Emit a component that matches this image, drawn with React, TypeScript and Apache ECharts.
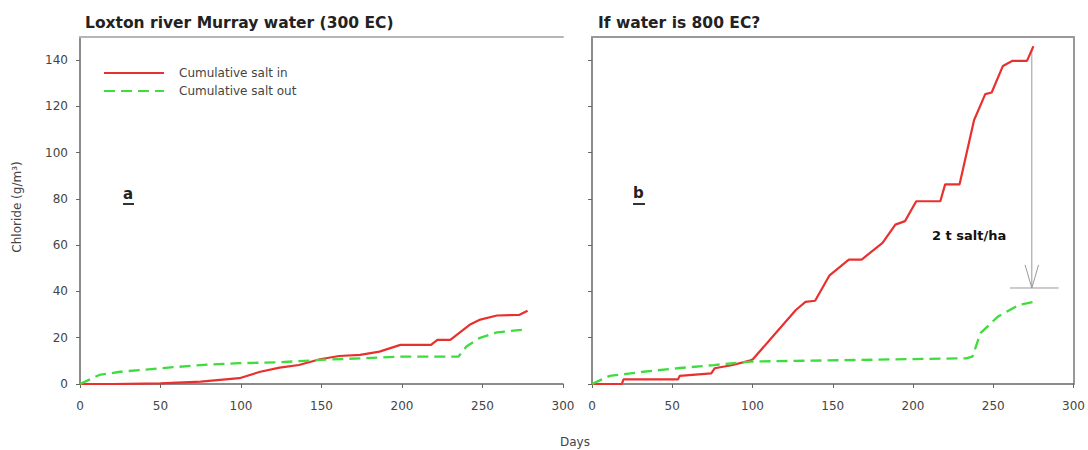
import React, { useEffect, useRef } from "react";
import * as echarts from "echarts";

// ---- data (days, cumulative chloride g/m^2) ----
const leftInDays = [0, 20, 50, 75, 99, 112, 124, 136, 149, 161, 174, 186, 199, 218, 222, 230, 242, 248, 259, 273, 278];
const leftInVals = [0, 0, 0.3, 1, 2.5, 5.3, 7.1, 8.2, 10.7, 12.1, 12.6, 14, 16.9, 16.9, 19.1, 19.1, 25.6, 27.7, 29.6, 29.9, 31.7];

const leftOutDays = [0, 12, 25, 50, 75, 99, 124, 149, 174, 199, 235, 240, 248, 259, 278];
const leftOutVals = [0, 3.9, 5.3, 6.8, 8.2, 9.0, 9.4, 10.4, 11.1, 11.8, 11.8, 16.2, 19.8, 22.3, 23.7];

const rightInDays = [0, 18.6, 19.6, 53.6, 54.6, 74.3, 76.4, 87.8, 98.2, 100.2, 112.6, 127, 133, 139, 148, 160, 168, 181, 189, 195, 202, 217, 220, 229, 238, 245, 249, 256, 262, 271, 275];
const rightInVals = [0, 0, 2, 2, 3.5, 4.6, 6.8, 8.2, 10.1, 10.7, 20.5, 32, 35.5, 36, 47, 53.8, 53.8, 61, 68.9, 70.4, 79, 79, 86.3, 86.3, 114, 125.3, 126, 137.5, 139.7, 139.7, 146];

const rightOutDays = [0, 11, 32, 53, 76, 99, 166, 233, 237, 242, 253, 266, 277];
const rightOutVals = [0, 3.5, 5.3, 6.8, 8.2, 9.7, 10.4, 11.1, 11.8, 22, 29.2, 34.2, 35.7];

const xTicks = [0, 50, 100, 150, 200, 250, 300];
const yTicks = [0, 20, 40, 60, 80, 100, 120, 140];

const seriesNames = ["Cumulative salt in", "Cumulative salt out"];
const panelTitles = ["Loxton river Murray water (300 EC)", "If water is 800 EC?"];
const panelLetters = ["a", "b"];
const annotationText = "2 t salt/ha";

// annotation geometry (data space, right panel)
const arrowX = 274;
const arrowFrom = 145;
const arrowTo = 41.5;
const arrowHeadHalf = 4.2;
const arrowHeadLen = 10;
const barFromX = 260.4;
const barToX = 290.7;

const pairs = (xs: number[], ys: number[]) => xs.map((x, i) => [x, ys[i]]);

const RED = "#e8302e";
const GREEN = "#3fdc3f";
const FONT = "DejaVu Sans";

export default function App() {
  const ref = useRef<HTMLDivElement>(null);
  useEffect(() => {
    const chart = echarts.init(ref.current!, null, { renderer: "svg" });
    const grids = [
      { left: 80, top: 37, width: 483, height: 347 },
      { left: 592, top: 37, width: 483, height: 347 },
    ];
    const baseX = (gi: number) => ({
      type: "value",
      gridIndex: gi,
      min: xTicks[0],
      max: xTicks[xTicks.length - 1],
      interval: 50,
      axisLine: { show: true, lineStyle: { color: "#666", width: 1.5 } },
      axisTick: { show: true, length: 4, lineStyle: { color: "#666" } },
      axisLabel: { margin: 16, color: "#444", fontSize: 12, fontFamily: FONT },
      splitLine: { show: false },
    });
    const baseY = (gi: number, labels: boolean) => ({
      type: "value",
      gridIndex: gi,
      min: 0,
      max: 150,
      axisLine: { show: true, lineStyle: { color: "#666", width: 1.5 } },
      axisTick: { show: true, length: 4, customValues: yTicks, lineStyle: { color: "#666" } },
      axisLabel: { show: labels, customValues: yTicks, margin: 12, color: "#444", fontSize: 12, fontFamily: FONT },
      splitLine: { show: false },
    });
    const frameX = (gi: number, color: string) => ({
      type: "value",
      gridIndex: gi,
      position: "top",
      min: 0,
      max: 300,
      axisLine: { show: true, onZero: false, lineStyle: { color, width: 2 } },
      axisTick: { show: false },
      axisLabel: { show: false },
      splitLine: { show: false },
    });
    const lineS = (name: string, xi: number, data: number[][], dashed: boolean) => ({
      name,
      type: "line",
      xAxisIndex: xi,
      yAxisIndex: xi,
      data,
      showSymbol: false,
      symbol: "none",
      lineStyle: dashed
        ? { color: GREEN, width: 2.3, type: [11, 6] }
        : { color: RED, width: 2.2 },
      itemStyle: { color: dashed ? GREEN : RED },
      z: dashed ? 3 : 2,
    });
    const annot = (data: number[][]) => ({
      type: "line",
      xAxisIndex: 1,
      yAxisIndex: 1,
      data,
      showSymbol: false,
      symbol: "none",
      silent: true,
      lineStyle: { color: "#999", width: 1 },
      z: 1,
    });
    chart.setOption({
      animation: false,
      backgroundColor: "#fff",
      textStyle: { fontFamily: FONT },
      grid: grids,
      xAxis: [baseX(0), baseX(1), frameX(0, "#b5b5b5"), frameX(1, "#999")],
      yAxis: [
        baseY(0, true),
        baseY(1, false),
        {
          type: "value",
          gridIndex: 1,
          position: "right",
          min: 0,
          max: 150,
          axisLine: { show: true, onZero: false, lineStyle: { color: "#999", width: 2 } },
          axisTick: { show: false },
          axisLabel: { show: false },
          splitLine: { show: false },
        },
      ],
      legend: {
        data: seriesNames,
        orient: "vertical",
        left: 103,
        top: 67,
        padding: 0,
        itemWidth: 60,
        itemHeight: 14,
        itemGap: 6,
        itemStyle: { opacity: 0 },
        textStyle: { color: "#444", fontSize: 12, fontFamily: FONT, padding: [0, 0, 0, 10] },
      },
      series: [
        lineS(seriesNames[0], 0, pairs(leftInDays, leftInVals), false),
        lineS(seriesNames[1], 0, pairs(leftOutDays, leftOutVals), true),
        lineS(seriesNames[0], 1, pairs(rightInDays, rightInVals), false),
        lineS(seriesNames[1], 1, pairs(rightOutDays, rightOutVals), true),
        annot([[arrowX, arrowFrom], [arrowX, arrowTo]]),
        annot([
          [arrowX - arrowHeadHalf, arrowTo + arrowHeadLen],
          [arrowX, arrowTo],
          [arrowX + arrowHeadHalf, arrowTo + arrowHeadLen],
        ]),
        annot([[barFromX, arrowTo], [barToX, arrowTo]]),
      ],
      graphic: [
        { type: "text", left: 85, top: 15, style: { text: panelTitles[0], font: `bold 15.5px "${FONT}"`, fill: "#222" } },
        { type: "text", left: 598, top: 15, style: { text: panelTitles[1], font: `bold 15.5px "${FONT}"`, fill: "#222" } },
        { type: "text", left: 123, top: 186, style: { text: panelLetters[0], font: `bold 15px "${FONT}"`, fill: "#222" } },
        { type: "rect", left: 123, top: 203, shape: { width: 11, height: 2 }, style: { fill: "#333" } },
        { type: "text", left: 633, top: 185, style: { text: panelLetters[1], font: `bold 15px "${FONT}"`, fill: "#222" } },
        { type: "rect", left: 633, top: 203, shape: { width: 12, height: 2 }, style: { fill: "#333" } },
        { type: "text", left: 932, top: 229, style: { text: annotationText, font: `bold 13px "${FONT}"`, fill: "#111" } },
        {
          type: "text",
          x: 17,
          y: 207,
          rotation: Math.PI / 2,
          style: { text: "Chloride (g/m³)", font: `12px "${FONT}"`, fill: "#444", align: "center", verticalAlign: "middle" },
        },
        { type: "text", left: 560, top: 436, style: { text: "Days", font: `12px "${FONT}"`, fill: "#444" } },
      ],
    });
    return () => chart.dispose();
  }, []);
  return <div ref={ref} style={{ position: "fixed", left: 0, top: 0, width: 1088, height: 450 }} />;
}
